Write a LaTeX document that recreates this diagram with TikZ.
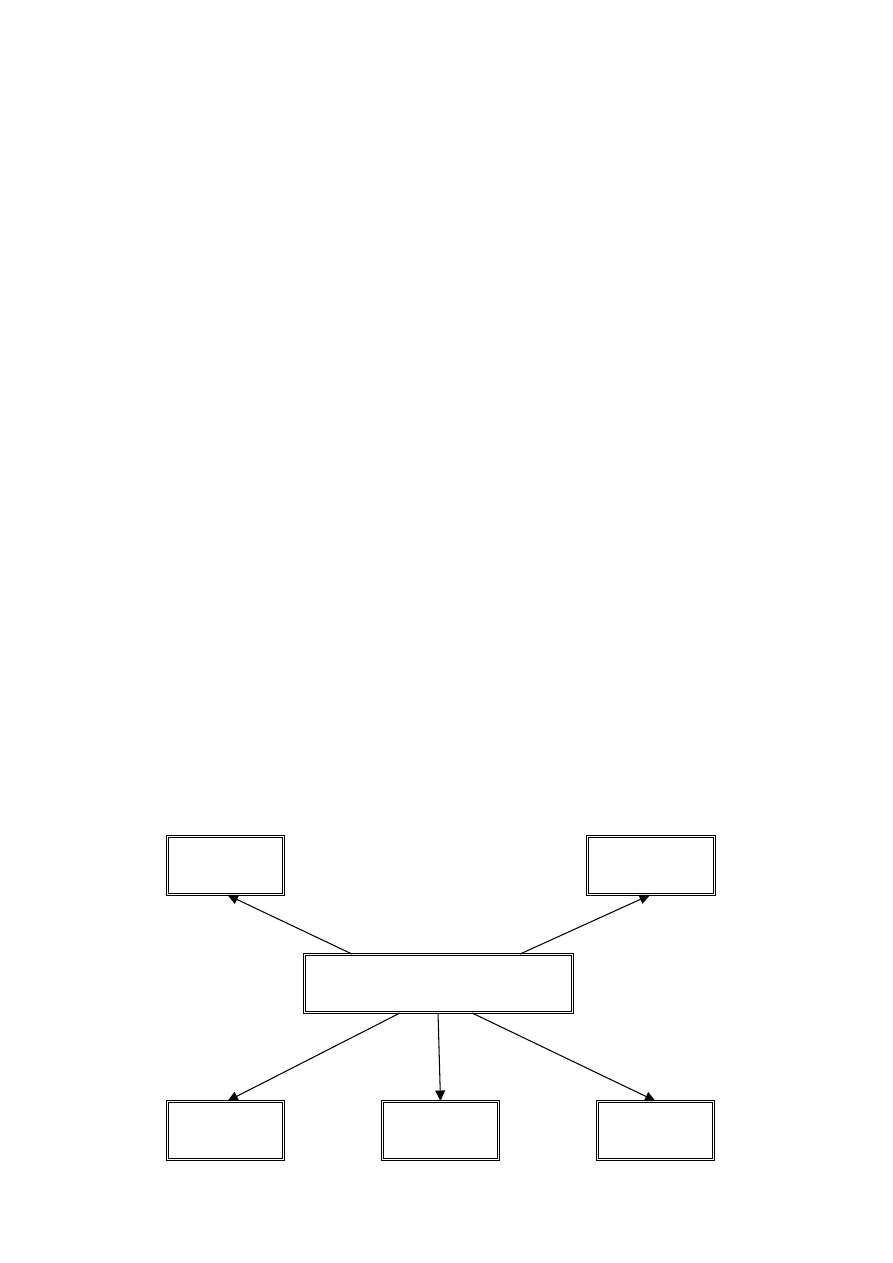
\documentclass[tikz,border=0pt]{standalone}
\usetikzlibrary{arrows.meta,calc}
\begin{document}
\begin{tikzpicture}[x=0.6667bp, y=-0.6667bp,
    dbox/.style={draw=black, double, double distance=0.9bp, line width=0.7bp,
                 inner sep=0pt, minimum height=38.6bp},
    link/.style={line width=0.7bp, -{Triangle[length=7bp, width=6.5bp]}}]
                    \useasboundingbox (0,0) rectangle (893,1263);
                    \node[dbox, minimum width=77.4bp] (topleft) at (225.5,865.5) {};
                    \node[dbox, minimum width=84.6bp] (topright) at (651,865.5) {};
                    \node[dbox, minimum width=178.6bp] (hub) at (438.5,983.5) {};
                    \node[dbox, minimum width=77.4bp] (botleft) at (225.5,1130.5) {};
                    \node[dbox, minimum width=77.4bp] (botmid) at (440.5,1130.5) {};
                    \node[dbox, minimum width=77.4bp] (botright) at (655.5,1130.5) {};
                    \draw[link] ($(hub.north west)+(48,0)$) -- ($(topleft.south)+(2,0)$);
                    \draw[link] ($(hub.north west)+(216,0)$) -- ($(topright.south)+(-1,0)$);
                    \draw[link] ($(hub.south west)+(96,0)$) -- ($(botleft.north)+(2,0)$);
                    \draw[link] ($(hub.south west)+(134,0)$) -- (botmid.north);
                    \draw[link] ($(hub.south west)+(168,0)$) -- (botright.north);
                \end{tikzpicture}
\end{document}
